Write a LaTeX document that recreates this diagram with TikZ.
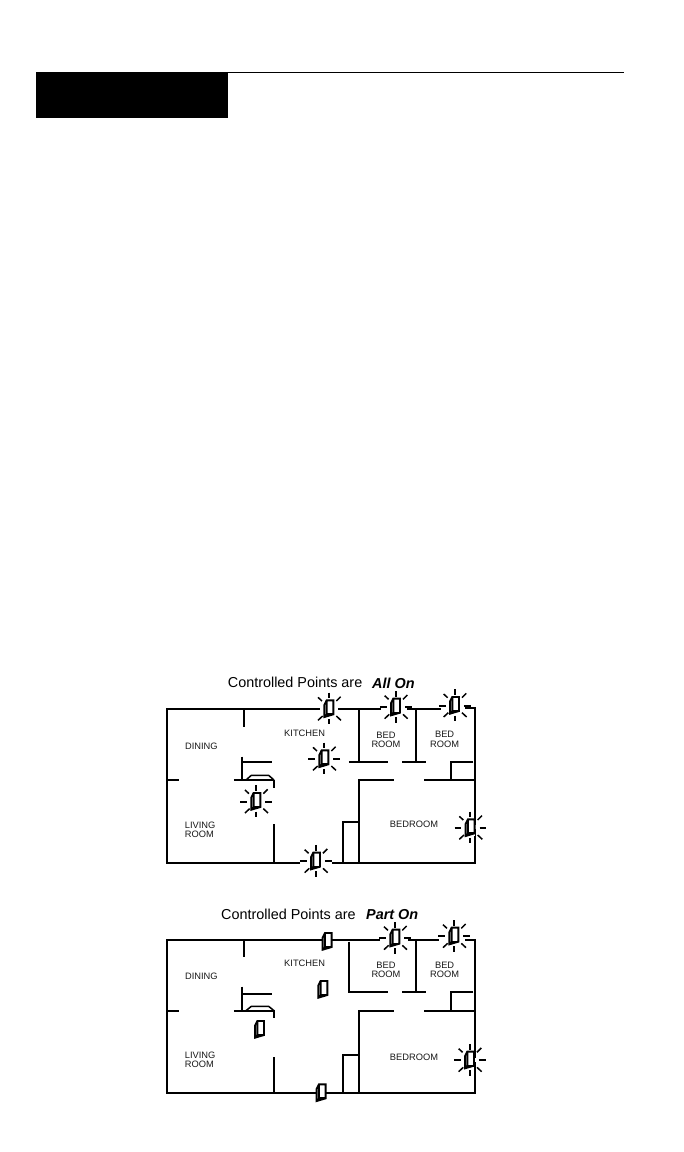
\documentclass[tikz,border=0pt]{standalone}
\usepackage{fontspec}
\setmainfont{Liberation Sans}
\tikzset{
  wall/.style={line width=2pt,line cap=butt,line join=miter},
  lbl/.style={inner sep=0pt,font=\fontsize{9.3}{9.6}\selectfont,align=center,text=black!90},
  ttl/.style={inner sep=0pt,anchor=west,font=\fontsize{14.4}{16}\selectfont},
  ttlb/.style={inner sep=0pt,anchor=west,font=\fontsize{14.4}{16}\selectfont\bfseries\itshape},
  pics/lampbody/.style={code={
    \fill[white] (-14,-24) rectangle (13,26);
    \draw[line width=1.9pt,line join=miter] (-14,26) -- (-14,-10) -- (-7,-24) -- (13,-24) -- (13,18) -- cycle;
    \draw[line width=1.9pt] (-7,-24) -- (-7,18) -- (-14,26);
    \draw[line width=1.9pt] (-7,18) -- (13,18);
  }},
  pics/lampon/.style={code={
    \fill[white] (-30,-6) rectangle (30,6);
    \pic {lampbody};
    \draw[line width=1.9pt] (-47,2) -- (-27,2) (28,2) -- (48,2) (0,-47) -- (0,-30) (0,32) -- (0,48);
    \draw[line width=1.5pt] (-33,-33) -- (-21,-22) (35,-35) -- (22,-22) (-33,36) -- (-19,23) (36,36) -- (22,23);
  }}
}
\begin{document}
\begin{tikzpicture}[x=1pt,y=-1pt]
\useasboundingbox (0,0) rectangle (684,1152);
\fill[white] (0,0) rectangle (684,1152);
\fill[black] (36,72) rectangle (228,118);
\draw[line width=1.3pt] (228,72.6) -- (624,72.6);
% upper plan
\begin{scope}[shift={(150pt,-665pt)},x=0.3333pt,y=-0.3333pt]
  \draw[wall] (490,131) -- (50,131) -- (50,593) -- (450,593);
  \draw[wall] (582,131) -- (692,131) (770,131) -- (872,131);
  \draw[wall] (945,129) -- (975,129) -- (975,593) -- (545,593);
  \draw[wall] (282,131) -- (282,185);
  \draw[wall] (275,275) -- (275,345) (275,290) -- (365,290);
  \draw[wall] (252,345) -- (372,345) (372,344) -- (372,368);
  \draw[line width=1.5pt] (288,345) -- (304,331) -- (356,331) -- (372,345);
  \draw[wall] (50,345) -- (87,345);
  \draw[wall] (372,478) -- (372,593);
  \draw[wall] (627,135) -- (627,290) (597,290) -- (713,290);
  \draw[wall] (798,131) -- (798,290) (757,290) -- (828,290);
  \draw[wall] (970,290) -- (903,290) -- (903,345);
  \draw[wall] (823,345) -- (975,345);
  \draw[wall] (732,345) -- (627,345) -- (627,593);
  \draw[wall] (627,470) -- (578,470) -- (578,593);
  \pic at (537,130) {lampon};
  \pic at (737,125) {lampon};
  \pic at (914,120) {lampon};
  \pic at (522,280) {lampon};
  \pic at (318,408) {lampon};
  \pic at (961,487) {lampon};
  \pic at (497,587) {lampon};
  \node[ttl] (t1a) at (233,52) {Controlled Points are};
  \node[ttlb] (t1b) at (666,54) {All On};
  \node[lbl] (k1) at (464,205) {KITCHEN};
  \node[lbl] (d1) at (154,243) {DINING};
  \node[lbl,anchor=west,align=left] (l1) at (104,494) {LIVING\\ROOM};
  \node[lbl] (b1a) at (708,225) {BED\\ROOM};
  \node[lbl] (b1b) at (884,223) {BED\\ROOM};
  \node[lbl] (b1c) at (792,479) {BEDROOM};
\end{scope}
% lower plan
\begin{scope}[shift={(150pt,-895pt)},x=0.3333pt,y=-0.3333pt]
  \draw[wall] (690,134) -- (50,134) -- (50,593) -- (975,593) -- (975,134) -- (945,134);
  \draw[wall] (775,134) -- (868,134);
  \draw[wall] (282,134) -- (282,187);
  \draw[wall] (275,275) -- (275,347);
  \draw[line width=2.6pt] (275,297) -- (365,297);
  \draw[wall] (252,347) -- (372,347) (372,346) -- (372,370);
  \draw[line width=1.5pt] (288,347) -- (304,334) -- (356,334) -- (372,347);
  \draw[wall] (50,349) -- (87,349);
  \draw[wall] (372,487) -- (372,593);
  \draw[wall] (597,140) -- (597,290) -- (713,290);
  \draw[wall] (798,134) -- (798,290) (757,290) -- (828,290);
  \draw[wall] (970,290) -- (903,290) -- (903,347);
  \draw[wall] (823,347) -- (975,347);
  \draw[wall] (732,347) -- (627,347) -- (627,593);
  \draw[wall] (627,480) -- (578,480) -- (578,593);
  \pic at (735,128) {lampon};
  \pic at (912,122) {lampon};
  \pic at (959,494) {lampon};
  \pic at (532,138) {lampbody};
  \pic at (519,282) {lampbody};
  \pic at (329,402) {lampbody};
  \pic at (514,592) {lampbody};
  \node[ttl] (t2a) at (213,58) {Controlled Points are};
  \node[ttlb] (t2b) at (648,60) {Part On};
  \node[lbl] (k2) at (464,206) {KITCHEN};
  \node[lbl] (d2) at (154,245) {DINING};
  \node[lbl,anchor=west,align=left] (l2) at (104,495) {LIVING\\ROOM};
  \node[lbl] (b2a) at (708,225) {BED\\ROOM};
  \node[lbl] (b2b) at (884,225) {BED\\ROOM};
  \node[lbl] (b2c) at (792,487) {BEDROOM};
\end{scope}
\end{tikzpicture}
\end{document}
